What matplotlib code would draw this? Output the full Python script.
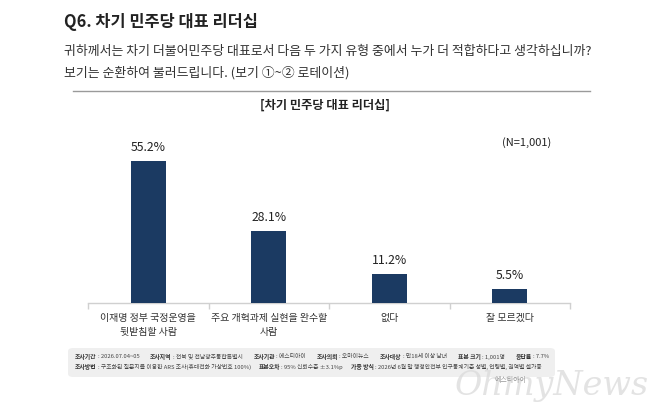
import matplotlib
matplotlib.use("Agg")
import matplotlib.pyplot as plt
from matplotlib.patches import FancyBboxPatch
from matplotlib.lines import Line2D

plt.rcParams['font.family'] = ['Noto Sans CJK KR', 'DejaVu Sans']

categories = ["이재명 정부 국정운영을\n뒷받침할 사람", "주요 개혁과제 실현을 완수할\n사람", "없다", "잘 모르겠다"]
values = [55.2, 28.1, 11.2, 5.5]
value_labels = ["55.2%", "28.1%", "11.2%", "5.5%"]

title = "Q6. 차기 민주당 대표 리더십"
subtitle1 = "귀하께서는 차기 더불어민주당 대표로서 다음 두 가지 유형 중에서 누가 더 적합하다고 생각하십니까?"
subtitle2 = "보기는 순환하여 불러드립니다. (보기 ①~② 로테이션)"
chart_title = "[차기 민주당 대표 리더십]"
n_label = "(N=1,001)"
footer1 = [("조사기간", "2026.07.04~05"), ("조사지역", "전북 및 전남광주통합특별시"), ("조사기관", "에스티아이"),
           ("조사의뢰", "오마이뉴스"), ("조사대상", "만18세 이상 남녀"), ("표본 크기", "1,001명"), ("응답률", "7.7%")]
footer2 = [("조사방법", "구조화된 질문지를 이용한 ARS 조사(휴대전화 가상번호 100%)"), ("표본오차", "95% 신뢰수준 ±3.1%p"),
           ("가중 방식", "2026년 6월 말 행정안전부 인구통계기준 성별, 연령별, 권역별 셀가중")]

W, H = 658, 420
fig = plt.figure(figsize=(W / 100, H / 100), dpi=100)
fig.patch.set_facecolor("white")

def fx(x):
    return x / W

def fy(y):
    return 1 - y / H

# Header
fig.text(fx(64), fy(22), title, fontsize=11.8, fontweight="bold", color="#222222", va="center", ha="left")
fig.text(fx(64), fy(51), subtitle1, fontsize=9.3, color="#333333", va="center", ha="left")
fig.text(fx(64), fy(73), subtitle2, fontsize=9.3, color="#333333", va="center", ha="left")
fig.add_artist(Line2D([fx(73), fx(590)], [fy(91), fy(91)], color="#9a9a9a", lw=1.0))
fig.text(fx(325), fy(105), chart_title, fontsize=8.8, fontweight="bold", color="#222222", va="center", ha="center")
fig.text(fx(527), fy(143), n_label, fontsize=8, color="#222222", va="center", ha="center")

# Axes
ax_left, ax_right = 88, 570
ax_bottom, ax_top = 303, 130
ax = fig.add_axes([fx(ax_left), fy(ax_bottom), (ax_right - ax_left) / W, (ax_bottom - ax_top) / H])
ppu = 142 / 55.2
ax.set_ylim(0, (ax_bottom - ax_top) / ppu)
ax.set_xlim(-0.5, len(categories) - 0.5)
xs = list(range(len(categories)))
bars = ax.bar(xs, values, width=0.29, color="#1b3a62", zorder=3)
for x, v, lab in zip(xs, values, value_labels):
    ax.annotate(lab, (x, v), xytext=(0, 5), textcoords="offset points", ha="center", va="bottom",
                fontsize=8.8, color="#222222")
for s in ["top", "right", "left"]:
    ax.spines[s].set_visible(False)
ax.spines["bottom"].set_color("#d0d0d0")
ax.spines["bottom"].set_linewidth(1.0)
ax.set_yticks([])
ax.set_xticks(xs)
ax.set_xticklabels(categories, fontsize=7.2, color="#333333", linespacing=1.55)
ax.tick_params(axis="x", length=0, pad=7)
ax.set_xticks([i - 0.5 for i in range(len(categories) + 1)], minor=True)
ax.tick_params(axis="x", which="minor", length=4, color="#d0d0d0", width=1.0)
ax.patch.set_alpha(0)

# Footer box
box = FancyBboxPatch((fx(68), fy(377)), fx(555 - 68), (377 - 348) / H,
                     boxstyle="round,pad=0,rounding_size=0.008", transform=fig.transFigure,
                     facecolor="#efefef", edgecolor="none", zorder=0)
fig.add_artist(box)

def footer_line(items, y, gap):
    renderer = fig.canvas.get_renderer()
    x = fx(75)
    for key, val in items:
        t1 = fig.text(x, fy(y), key, fontsize=4.2, fontweight="bold", color="#333333", va="center", ha="left")
        bb = t1.get_window_extent(renderer)
        x += bb.width / W + fx(1)
        t2 = fig.text(x, fy(y), ": " + val, fontsize=4.2, color="#444444", va="center", ha="left")
        bb = t2.get_window_extent(renderer)
        x += bb.width / W + fx(gap)

footer_line(footer1, 357, 11)
footer_line(footer2, 367, 8)

# Watermark
fig.text(fx(552), fy(386), "OhmyNews", fontsize=24, family="DejaVu Serif", style="italic",
         color="#dcdcdc", alpha=0.8, va="center", ha="center", zorder=5)
fig.text(fx(510), fy(380), "에스티아이", fontsize=5, color="#999999", va="center", ha="center", zorder=6)

fig.savefig("out.png", dpi=100, facecolor="white")
